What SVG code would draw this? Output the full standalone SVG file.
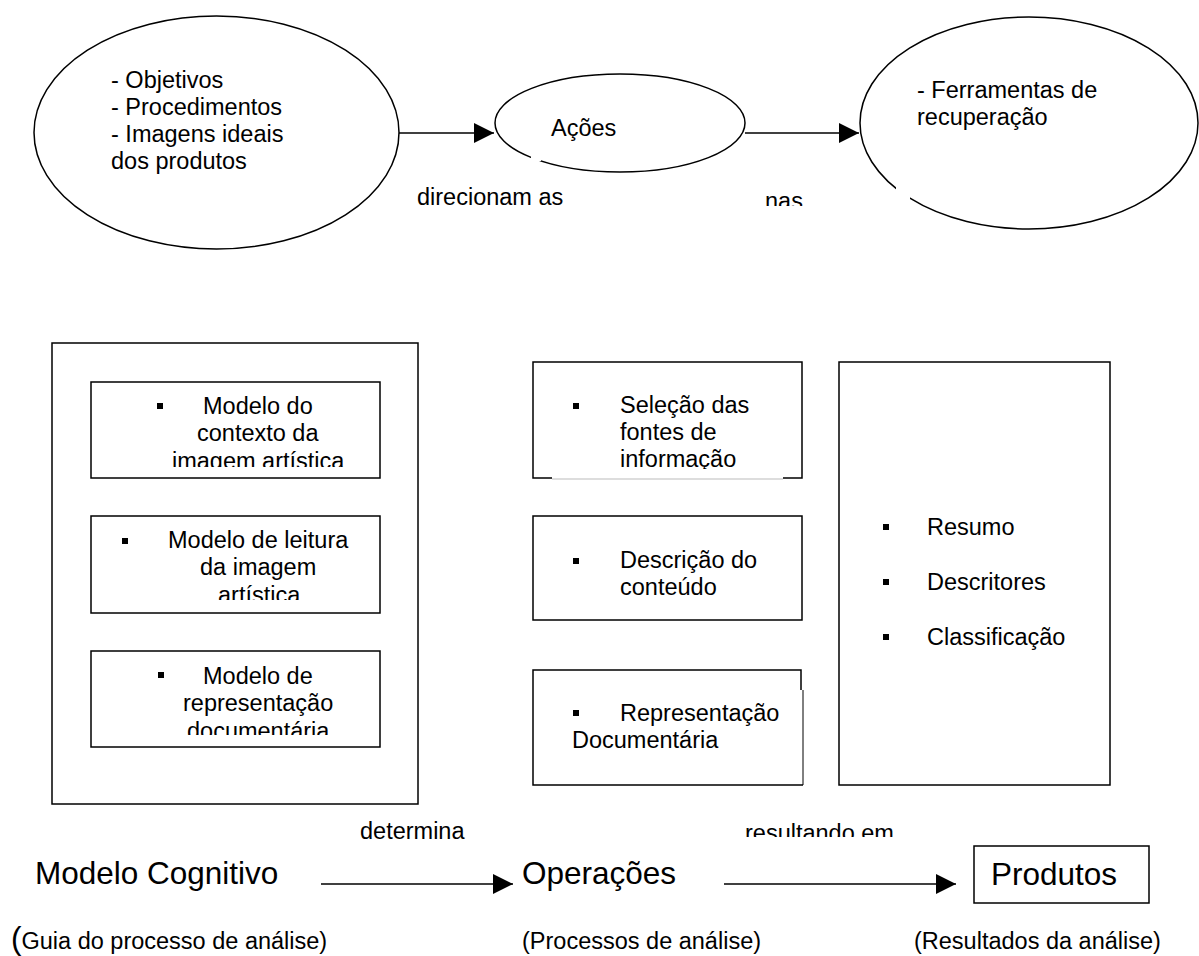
<svg xmlns="http://www.w3.org/2000/svg" width="1199" height="956" viewBox="0 0 1199 956">
<style>
text{font-family:"Liberation Sans",Arial,sans-serif;fill:#000}
.s{font-size:23.5px}
.b{font-size:31.5px}
.sh{fill:none;stroke:#000;stroke-width:1.5}
.ln{fill:none;stroke:#000;stroke-width:1.5}
.bul{fill:#000}
</style>
<defs>
<marker id="ah" viewBox="0 0 20 20" refX="20" refY="10" markerWidth="20" markerHeight="20" markerUnits="userSpaceOnUse" orient="auto"><path d="M0,0 L20,10 L0,20 Z" fill="#000"/></marker>
<clipPath id="c1"><rect x="92" y="383" width="287" height="84"/></clipPath>
<clipPath id="c2"><rect x="92" y="517" width="287" height="83"/></clipPath>
<clipPath id="c3"><rect x="92" y="652" width="287" height="83"/></clipPath>
<clipPath id="cA"><rect x="534" y="363" width="267" height="106"/></clipPath>
<clipPath id="cnas"><rect x="700" y="180" width="120" height="26"/></clipPath>
<clipPath id="cres"><rect x="700" y="810" width="220" height="27"/></clipPath>
</defs>
<rect width="1199" height="956" fill="#fff"/>

<g id="connectors">
<line class="ln" x1="399" y1="133" x2="494" y2="133" marker-end="url(#ah)"/>
<line class="ln" x1="745" y1="133" x2="859" y2="133" marker-end="url(#ah)"/>
<line class="ln" x1="321" y1="884" x2="513" y2="884" marker-end="url(#ah)"/>
<line class="ln" x1="724" y1="884" x2="956" y2="884" marker-end="url(#ah)"/>
<text class="s" x="417" y="205">direcionam as</text>
<text class="s" x="765" y="209" clip-path="url(#cnas)">nas</text>
<text class="s" x="360" y="839">determina</text>
<text class="s" x="745" y="841" clip-path="url(#cres)">resultando em</text>
</g>

<g id="ellipse-objetivos">
<ellipse class="sh" cx="216.5" cy="132.5" rx="182.5" ry="116.5"/>
<text class="s" x="111" y="88">- Objetivos</text>
<text class="s" x="111" y="115">- Procedimentos</text>
<text class="s" x="111" y="142">- Imagens ideais</text>
<text class="s" x="111" y="169">dos produtos</text>
</g>

<g id="ellipse-acoes">
<ellipse class="sh" cx="620" cy="123" rx="125" ry="49"/>
<rect x="531" y="151" width="10" height="10" fill="#fff"/>
<text class="s" x="551" y="136">Ações</text>
</g>

<g id="ellipse-ferramentas">
<ellipse class="sh" cx="1029" cy="123" rx="169" ry="106"/>
<rect x="896" y="185" width="14" height="14" fill="#fff"/>
<text class="s" x="917" y="98">- Ferramentas de</text>
<text class="s" x="917" y="125">recuperação</text>
</g>

<g id="modelo-cognitivo-box">
<rect class="sh" x="52" y="343" width="366" height="461"/>
</g>
<g id="modelo-contexto">
<rect class="sh" x="91" y="382" width="289" height="96"/>
<rect class="bul" x="157" y="403" width="6" height="6"/>
<g clip-path="url(#c1)">
<text class="s" x="203" y="414">Modelo do</text>
<text class="s" x="197" y="441">contexto da</text>
<text class="s" x="172" y="469">imagem artística</text>
</g>
</g>
<g id="modelo-leitura">
<rect class="sh" x="91" y="516" width="289" height="97"/>
<rect class="bul" x="122" y="538" width="6" height="6"/>
<g clip-path="url(#c2)">
<text class="s" x="168" y="548">Modelo de leitura</text>
<text class="s" x="200" y="575">da imagem</text>
<text class="s" x="218" y="603">artística</text>
</g>
</g>
<g id="modelo-representacao">
<rect class="sh" x="91" y="651" width="289" height="96"/>
<rect class="bul" x="158" y="672" width="6" height="6"/>
<g clip-path="url(#c3)">
<text class="s" x="203" y="684">Modelo de</text>
<text class="s" x="183" y="711">representação</text>
<text class="s" x="187" y="739">documentária</text>
</g>
</g>

<g id="selecao">
<path class="sh" d="M552,478 H533 V362 H802 V478 H783"/>
<line x1="552" y1="479" x2="783" y2="479" stroke="#bbb" stroke-width="1"/>
<rect class="bul" x="573" y="403" width="6" height="6"/>
<g clip-path="url(#cA)">
<text class="s" x="620" y="413">Seleção das</text>
<text class="s" x="620" y="440">fontes de</text>
<text class="s" x="620" y="467">informação</text>
</g>
</g>
<g id="descricao">
<rect class="sh" x="533" y="516" width="269" height="104"/>
<rect class="bul" x="573" y="558" width="6" height="6"/>
<text class="s" x="620" y="568">Descrição do</text>
<text class="s" x="620" y="595">conteúdo</text>
</g>
<g id="representacao">
<path class="sh" d="M801,690 V670 H533 V785 H803"/>
<line x1="803" y1="690" x2="803" y2="785" stroke="#000" stroke-width="1"/>
<rect class="bul" x="573" y="710" width="6" height="6"/>
<text class="s" x="620" y="721">Representação</text>
<text class="s" x="572" y="748">Documentária</text>
</g>

<g id="produtos-lista">
<rect class="sh" x="839" y="362" width="271" height="423"/>
<rect class="bul" x="883" y="524" width="6" height="6"/>
<text class="s" x="927" y="535">Resumo</text>
<rect class="bul" x="883" y="579" width="6" height="6"/>
<text class="s" x="927" y="590">Descritores</text>
<rect class="bul" x="883" y="634" width="6" height="6"/>
<text class="s" x="927" y="645">Classificação</text>
</g>

<g id="modelo-cognitivo">
<text class="b" x="35" y="884">Modelo Cognitivo</text>
<text class="s" x="11" y="949"><tspan font-size="31.5">(</tspan>Guia do processo de análise)</text>
</g>
<g id="operacoes">
<text class="b" x="522" y="884">Operações</text>
<text class="s" x="522" y="949">(Processos de análise)</text>
</g>
<g id="produtos">
<rect class="sh" x="974" y="846" width="175" height="57"/>
<text class="b" x="991" y="885">Produtos</text>
<text class="s" x="914" y="949">(Resultados da análise)</text>
</g>
</svg>
